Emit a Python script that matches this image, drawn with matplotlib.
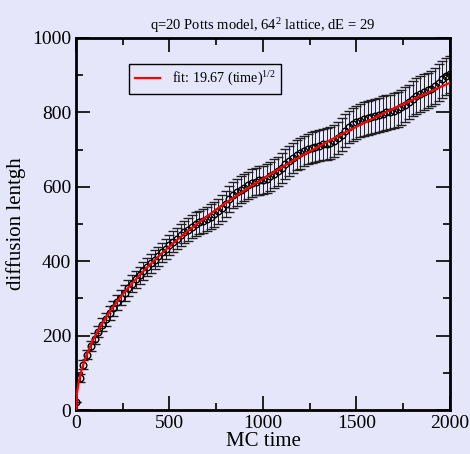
import matplotlib
matplotlib.use("Agg")
import matplotlib.pyplot as plt
import numpy as np

plt.rcParams['font.family'] = ['Liberation Serif', 'DejaVu Serif']
plt.rcParams['mathtext.fontset'] = 'custom'
plt.rcParams['mathtext.rm'] = 'Liberation Serif'
plt.rcParams['mathtext.it'] = 'Liberation Serif:italic'

# MC time points
tempo = list(range(0, 2001, 20))

# diffusion length
comprimento = [
    22, 86, 122, 149, 172, 192, 211, 229, 244, 260,
    274, 289, 302, 315, 328, 340, 351, 362, 373, 384,
    394, 404, 413, 424, 433, 443, 452, 461, 470, 478,
    485, 493, 500, 505, 509, 514, 520, 526, 534, 543,
    554, 566, 577, 585, 592, 598, 604, 610, 614, 617,
    619, 622, 628, 635, 642, 651, 661, 670, 678, 685,
    690, 696, 701, 705, 708, 711, 714, 716, 719, 724,
    731, 740, 751, 761, 768, 773, 778, 782, 785, 788,
    790, 793, 797, 800, 802, 805, 809, 814, 820, 828,
    837, 844, 850, 855, 859, 864, 871, 880, 889, 897,
    902,
]

# error bars (half length)
erro = [
    0, 10, 12, 13, 14, 15, 16, 17, 18, 19,
    20, 20, 21, 21, 22, 22, 23, 23, 24, 24,
    25, 25, 26, 26, 27, 27, 28, 28, 29, 29,
    30, 30, 31, 31, 32, 32, 33, 33, 34, 34,
    35, 35, 35, 36, 36, 36, 37, 37, 37, 38,
    38, 38, 39, 39, 39, 40, 40, 40, 40, 41,
    41, 41, 41, 42, 42, 42, 42, 43, 43, 43,
    43, 44, 44, 44, 44, 44, 45, 45, 45, 45,
    45, 46, 46, 46, 46, 46, 47, 47, 47, 47,
    47, 48, 48, 48, 48, 48, 49, 49, 49, 49,
    49,
]

coef_fit = 19.67
tempo_fit = list(range(0, 2001, 5))
valores_fit = [coef_fit * np.sqrt(t) for t in tempo_fit]

fundo = '#e6e6fa'

fig = plt.figure(figsize=(4.7, 4.54), dpi=100, facecolor=fundo)
ax = fig.add_axes([0.1617, 0.0969, 0.7957, 0.8194], facecolor=fundo)

ax.errorbar(tempo, comprimento, yerr=erro, fmt='o', mfc='none', mec='black',
            ms=4.8, mew=1.0, ecolor='#202020', elinewidth=0.7, capsize=3.6,
            capthick=0.8, zorder=2)
ax.plot(tempo_fit, valores_fit, color='red', lw=1.6,
        label='fit: 19.67 (time)$^{1/2}$', zorder=3)

ax.set_xlim(0, 2000)
ax.set_ylim(0, 1000)
ax.set_xticks([0, 500, 1000, 1500, 2000])
ax.set_xticks([250, 750, 1250, 1750], minor=True)
ax.set_yticks([0, 200, 400, 600, 800, 1000])
ax.set_yticks([100, 300, 500, 700, 900], minor=True)
ax.tick_params(which='both', direction='in', top=True, right=True, labelsize=14)
ax.tick_params(which='major', length=10, width=1.2)
ax.tick_params(which='minor', length=5, width=1.2)
for lado in ax.spines.values():
    lado.set_linewidth(2)

ax.set_xlabel('MC time', fontsize=15, labelpad=0)
ax.set_ylabel('diffusion lentgh', fontsize=15, labelpad=4)
ax.set_title('q=20 Potts model, 64$^2$ lattice, dE = 29', fontsize=10.5, pad=6)

leg = ax.legend(loc='upper left', bbox_to_anchor=(0.142, 0.93), fontsize=10.2,
                borderaxespad=0, frameon=True, fancybox=False, handlelength=1.8)
leg.get_frame().set_edgecolor('black')
leg.get_frame().set_facecolor(fundo)
leg.get_frame().set_alpha(1)
leg.get_frame().set_linewidth(1)

plt.savefig('out.png', dpi=100, facecolor=fundo)
